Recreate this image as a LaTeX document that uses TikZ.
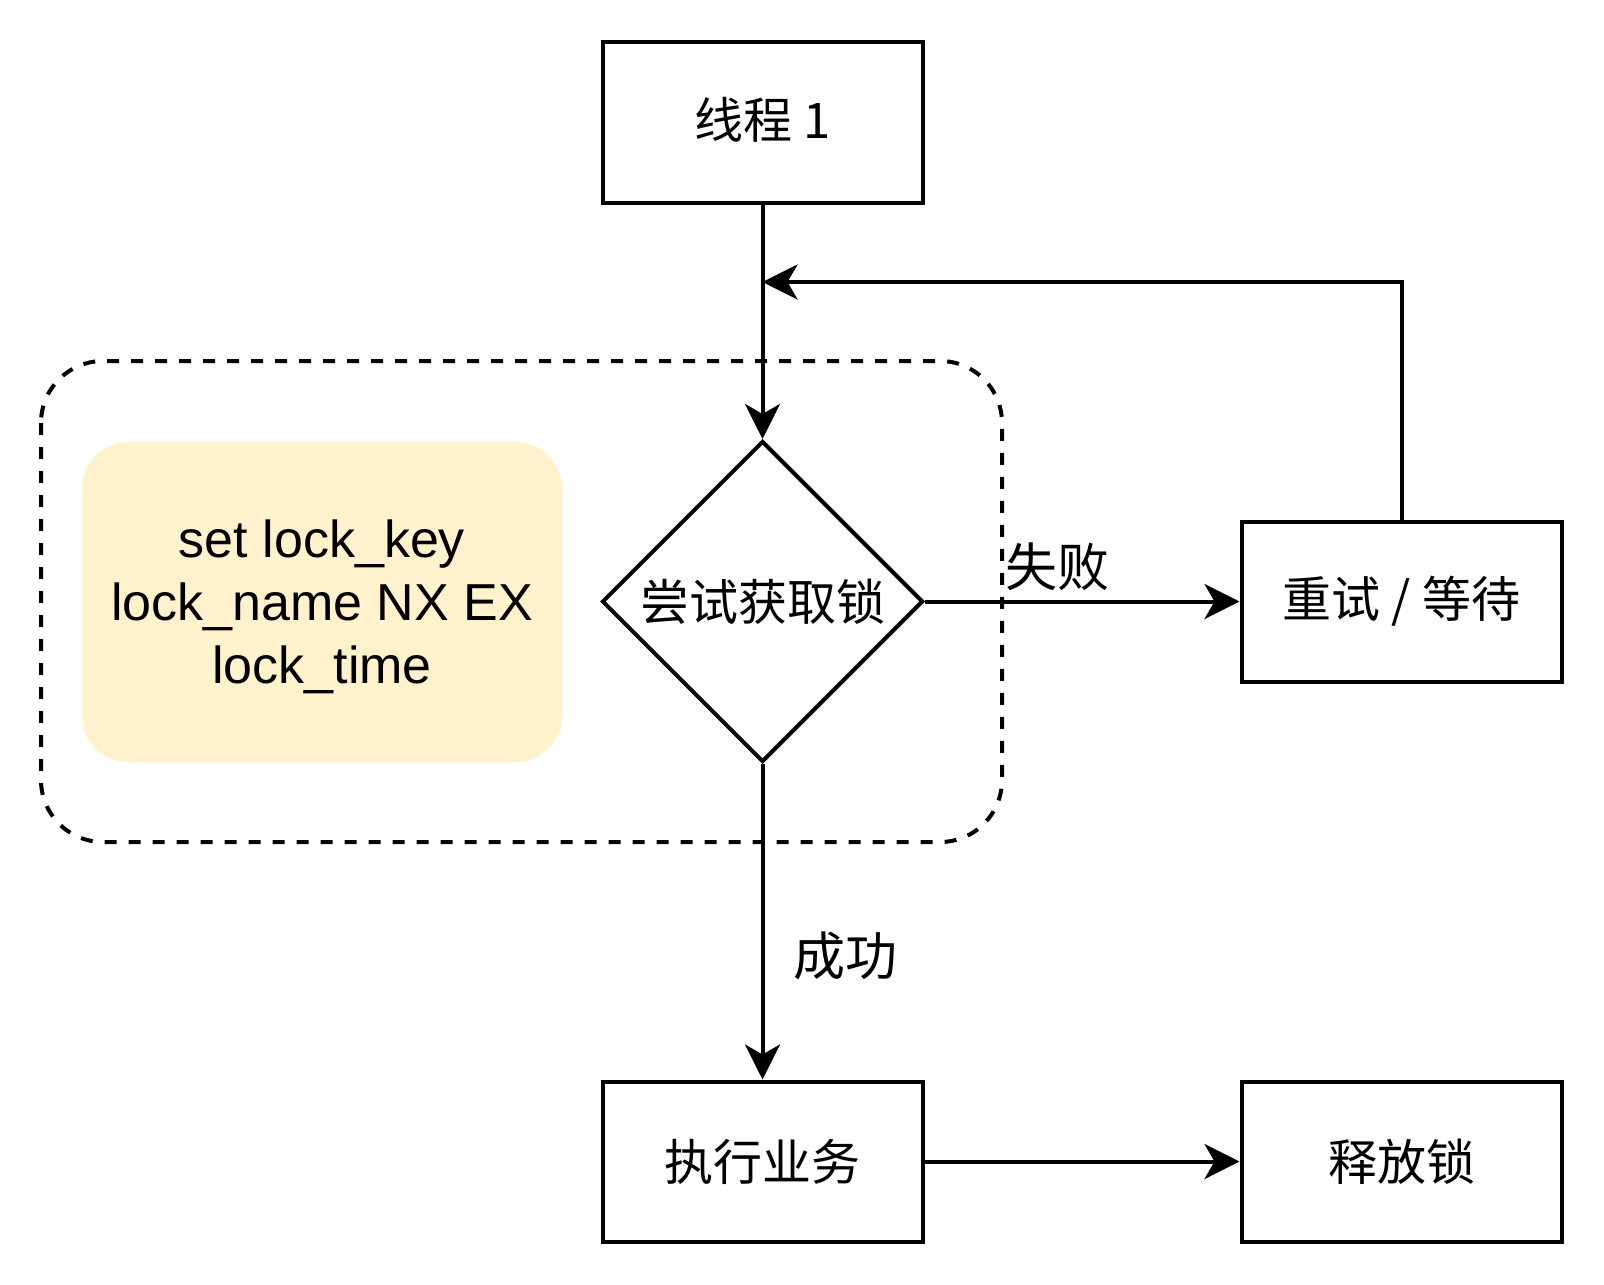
\documentclass[tikz,border=0pt]{standalone}
\usepackage{fontspec}
\setmainfont{Liberation Sans}
\newfontfamily\cjk{Noto Sans CJK SC}
\usetikzlibrary{shapes.geometric,arrows.meta}

\begin{document}
\begin{tikzpicture}[x=0.5pt,y=-0.5pt,
    box/.style={draw,line width=2pt,minimum width=160pt,minimum height=80pt,inner sep=0pt,font=\cjk\fontsize{24.5}{30}\selectfont},
    decide/.style={draw,diamond,aspect=1,line width=2pt,minimum width=160.5pt,minimum height=160.5pt,inner sep=0pt,font=\cjk\fontsize{24.5}{30}\selectfont},
    note/.style={fill=notefill,rounded corners=23pt,minimum width=240pt,minimum height=160pt},
    notetext/.style={align=center,inner sep=0pt,font=\fontsize{26}{31.5}\selectfont},
    tag/.style={inner sep=0pt,font=\cjk\fontsize{26}{30}\selectfont},
    arr/.style={line width=2pt,-{Stealth[length=17.5pt,width=17.5pt,inset=5pt]}}]
  \definecolor{notefill}{HTML}{FFF2CC}
  \useasboundingbox (0,0) rectangle (1604,1284);

  % dashed group round the lock step
  \draw[line width=2pt,dash pattern=on 6pt off 6pt,rounded corners=31pt] (41,361) rectangle (1002,842);
  \node[note] (cmd) at (322,602) {};
  \node[notetext] (cmdtext) at ([yshift=-2.5pt]cmd.center) {set lock\_key\\lock\_name NX EX\\lock\_time};

  \node[box] (thread) at (762.5,122.5) {\raisebox{1.5pt}[\height][\depth]{线程 1}};
  \node[decide] (try) at (762.5,601.5) {尝试获取锁};
  \node[box] (retry) at (1401.5,601.5) {重试 / 等待};
  \node[box] (exec) at (762.5,1161.5) {执行业务};
  \node[box] (free) at (1401.5,1161.5) {释放锁};
  \coordinate (back) at (762.5,282);

  \draw[arr] (thread) -- (try);
  \draw[arr] (try) -- (retry);
  \draw[arr] (retry.north) |- (back);
  \draw[arr] (try) -- (exec);
  \draw[arr] (exec) -- (free);

  \node[tag] (fail) at (1057,567) {失败};
  \node[tag] (ok) at (845,956) {成功};
\end{tikzpicture}
\end{document}
